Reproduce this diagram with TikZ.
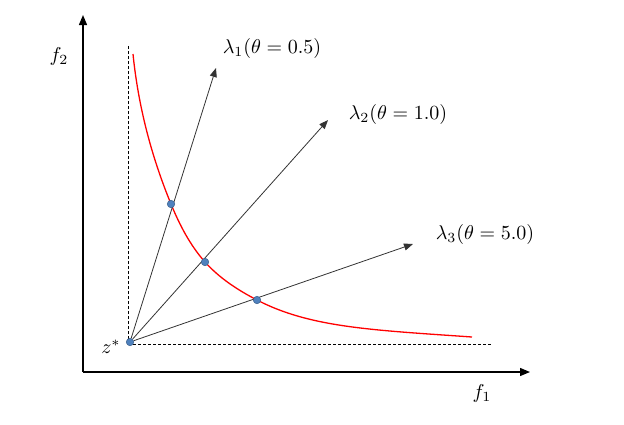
\documentclass[tikz,border=0pt]{standalone}
\usetikzlibrary{arrows.meta}
\definecolor{dotfill}{RGB}{79,129,189}
\definecolor{dotline}{RGB}{56,93,138}
\begin{document}
\begin{tikzpicture}[x=1pt,y=-1pt,
  axis/.style={line width=1.3pt,-{Triangle[length=10pt,width=8pt]}},
  ray/.style={line width=0.8pt,draw=black!80,-{Triangle[length=9pt,width=7pt]}},
  guide/.style={line width=0.6pt,dash pattern=on 3pt off 2pt},
  dot/.style={circle,fill=dotfill,draw=dotline,line width=0.5pt,inner sep=0pt,minimum size=7.5pt},
  lab/.style={inner sep=0pt,scale=2.0,transform shape}
]
\useasboundingbox (0,0) rectangle (624,424);
\coordinate (O) at (83,372);
\coordinate (ytop) at (83,15);
\coordinate (xend) at (530,372);
\draw[axis] (O) -- (ytop);
\draw[axis] (O) -- (xend);
\coordinate (gtop) at (128,45);
\coordinate (gright) at (492,344);
\coordinate (zc) at (128,344);
\draw[guide] (zc) -- (gtop);
\draw[guide] (zc) -- (gright);
\draw[red,line width=1.3pt] (133,54) .. controls (138.2,105.7) and (151.2,155.9) .. (171,204)
  .. controls (179.5,224.7) and (190.1,245.3) .. (205,262)
  .. controls (219.5,278.2) and (237.7,290) .. (257,300)
  .. controls (310.3,327.7) and (372.3,330) .. (472,337);
\coordinate (e1) at (216,68);
\coordinate (e2) at (328,120);
\coordinate (e3) at (413,244);
\node[dot] (z) at (130,342) {};
\draw[ray] (z) -- (e1);
\draw[ray] (z) -- (e2);
\draw[ray] (z) -- (e3);
\node[dot] (p1) at (171,204) {};
\node[dot] (p2) at (205,262) {};
\node[dot] (p3) at (257,300) {};
\node[lab] (l1) at (272,48) {$\lambda_1(\theta = 0.5)$};
\node[lab] (l2) at (398,114) {$\lambda_2(\theta = 1.0)$};
\node[lab] (l3) at (485,234) {$\lambda_3(\theta = 5.0)$};
\node[lab] (f2) at (59,56) {$f_2$};
\node[lab] (f1) at (482,393) {$f_1$};
\node[lab] (zs) at (111,347) {$z^*$};
\end{tikzpicture}
\end{document}
